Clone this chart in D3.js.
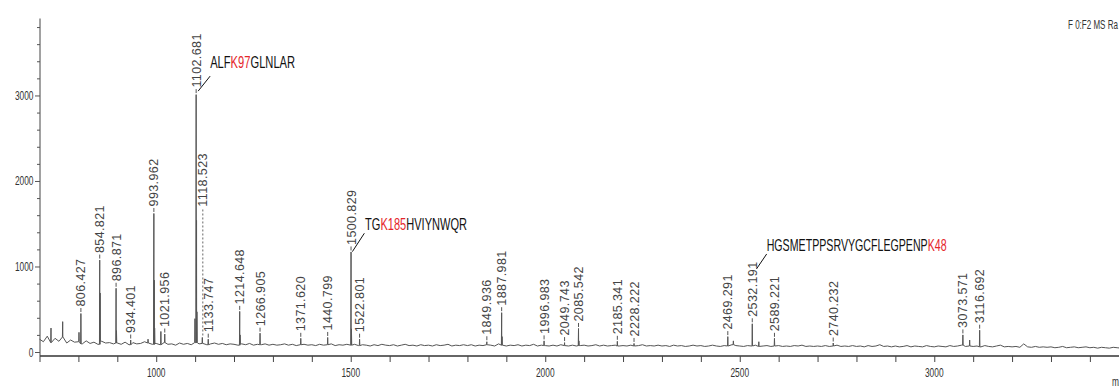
<!DOCTYPE html>
<html>
<head>
<meta charset="utf-8">
<script src="https://cdn.jsdelivr.net/npm/d3@7"></script>
<style>
  body { margin: 0; background: #fff; }
  svg { display: block; }
</style>
</head>
<body>
<svg id="chart" width="1119" height="388"></svg>
<script>
// ---------- data ----------
// baseline noise trace: one value every 10 m/z starting at 700
const baselineStart = 700;
const baselineStep = 10;
const baselineIntensity = [
  150,120,185,110,160,125,175,105,140,115,
  120,95,130,100,115,90,125,105,110,95,
  105,90,115,85,110,95,100,120,105,90,
  100,85,110,90,95,80,105,90,100,85,
  110,95,100,85,95,105,90,100,85,95,
  90,80,95,85,100,80,90,85,95,80,
  90,80,85,95,80,90,75,85,90,80,
  85,75,90,80,85,95,75,85,80,90,
  80,90,75,85,80,70,85,75,90,80,
  75,85,70,80,90,75,80,70,85,75,
  80,70,85,75,80,90,70,80,75,85,
  75,85,70,80,75,85,80,70,95,80,
  70,80,75,85,70,80,75,90,70,80,
  75,70,80,70,85,75,70,80,70,75,
  80,70,75,85,70,80,70,75,80,70,
  75,70,80,70,75,85,70,75,70,80,
  70,75,65,80,70,75,65,70,80,70,
  75,65,70,80,70,65,75,70,85,75,
  70,65,75,70,80,65,70,75,65,70,
  75,65,70,65,75,70,80,65,70,65,
  70,65,75,65,70,80,65,70,65,75,
  65,70,60,75,65,70,85,65,70,60,
  70,60,65,75,60,70,65,60,75,65,
  60,70,65,60,75,65,70,80,65,70,
  65,70,60,75,65,60,70,80,60,65,
  60,65,55,95,60,55,65,55,60,55,
  60,50,55,65,50,55,60,50,55,60,
  50,55,45,55,50,45,55,50,45
];

// labelled peaks (m/z, intensity)
const labeledMz = [
  806.427, 854.821, 896.871, 934.401, 993.962, 1021.956, 1102.681, 1118.523,
  1133.747, 1214.648, 1266.905, 1371.620, 1440.799, 1500.829, 1522.801,
  1849.936, 1887.981, 1996.983, 2049.743, 2085.542, 2185.341, 2228.222,
  2469.291, 2532.191, 2589.221, 2740.232, 3073.571, 3116.692
];
const labeledIntensity = [
  450, 1075, 745, 140, 1620, 210, 3010, 170,
  150, 475, 220, 160, 170, 1170, 150,
  120, 460, 130, 110, 275, 125, 100,
  180, 330, 160, 105, 200, 255
];

// unlabelled peaks (isotopes and minor signals)
const otherMz = [
  729.6, 759.6, 801.5, 855.82, 897.87, 979.0, 994.96, 995.96, 1012.0,
  1099.6, 1103.68, 1104.68, 1215.65, 1501.83, 1888.98, 2086.54,
  2483.6, 2549.0, 3091.0
];
const otherIntensity = [
  280, 355, 230, 690, 250, 150, 840, 280, 240,
  390, 1540, 470, 200, 270, 180, 130,
  130, 120, 140
];

// peptide annotations: [plain, modified residue, plain]
const peptideMz = [1102.681, 1500.829, 2532.191];
const peptideParts = [
  ["ALF", "K97", "GLNLAR"],
  ["TG", "K185", "HVIYNWQR"],
  ["HGSMETPPSRVYGCFLEGPENP", "K48", ""]
];

const xTickValues = [1000, 1500, 2000, 2500, 3000];
const yTickValues = [0, 1000, 2000, 3000];
const headerText = "F 0:F2 MS Ra";
const xAxisTitle = "m/z";

// ---------- layout ----------
const svg = d3.select("#chart");
const W = 1119, H = 388;
const axisLeft = 40, axisBottomY = 356;

const x = d3.scaleLinear().domain([700, 3480]).range([39.5, 1121]);
const y = d3.scaleLinear().domain([0, 3900]).range([352, 18.5]);

const narrow = "'Liberation Sans Narrow', 'Arial Narrow', sans-serif";
const regular = "'Liberation Sans', Arial, sans-serif";
const squeeze = 0.67;   // horizontal compression of the axis lettering

// ---------- axes ----------
const gx = svg.append("g").attr("transform", `translate(0,${axisBottomY})`);
gx.call(d3.axisBottom(x).tickValues(d3.range(700, 3500, 100)).tickSize(6).tickFormat(""));
gx.select(".domain").attr("d", `M${axisLeft},0H${W}`).attr("stroke", "#333").attr("stroke-width", 1.6);
gx.selectAll(".tick line").attr("stroke", "#444");

const gxl = svg.append("g").attr("transform", `translate(0,${axisBottomY})`);
gxl.selectAll("text").data(xTickValues).join("text")
  .attr("transform", d => `translate(${x(d)},21) scale(${squeeze},1)`)
  .attr("text-anchor", "middle")
  .attr("font-family", regular).attr("font-size", 12.5).attr("fill", "#333")
  .text(d => d);

const gy = svg.append("g").attr("transform", `translate(${axisLeft},0)`);
gy.call(d3.axisLeft(y).tickValues(d3.range(0, 3900, 200)).tickSize(3).tickFormat(""));
gy.select(".domain").attr("d", `M0,${y(3900)}V${axisBottomY}`).attr("stroke", "#444").attr("stroke-width", 1);
gy.selectAll(".tick line").attr("stroke", "#555")
  .attr("x2", d => yTickValues.includes(d) ? -5 : -3);
gy.selectAll(".tick text").remove();
gy.selectAll("text.ylab").data(yTickValues).join("text").attr("class", "ylab")
  .attr("transform", d => `translate(-6.5,${y(d)}) scale(${squeeze},1)`)
  .attr("dy", "0.36em")
  .attr("text-anchor", "end")
  .attr("font-family", regular).attr("font-size", 12.5).attr("fill", "#333")
  .text(d => d);

// ---------- spectrum trace ----------
const baseAt = m => {
  const i = Math.max(0, Math.min(baselineIntensity.length - 1, Math.round((m - baselineStart) / baselineStep)));
  return baselineIntensity[i];
};
const points = baselineIntensity.map((v, i) => [baselineStart + i * baselineStep, v]);
const allPeaks = labeledMz.map((m, i) => [m, labeledIntensity[i]])
  .concat(otherMz.map((m, i) => [m, otherIntensity[i]]));
allPeaks.forEach(([m, h]) => {
  const b = baseAt(m);
  points.push([m - 0.7, b], [m, h], [m + 0.7, b]);
});
points.sort((a, b) => a[0] - b[0]);

svg.append("path")
  .datum(points)
  .attr("fill", "none")
  .attr("stroke", "#555")
  .attr("stroke-width", 1)
  .attr("stroke-linejoin", "round")
  .attr("d", d3.line().x(d => x(d[0])).y(d => y(d[1])));

// ---------- peak labels ----------
// labels that would collide with the 1102 cluster are lifted, with a dashed leader
const liftedLabels = new Map([[1118.523, 1700]]);
const fmt = d3.format(".3f");
const lab = svg.append("g");
labeledMz.forEach((m, i) => {
  const h = labeledIntensity[i];
  const px = x(m), top = y(h);
  let start = top - 7;
  if (liftedLabels.has(m)) {
    start = y(liftedLabels.get(m));
    lab.append("line")
      .attr("x1", px + 0.5).attr("x2", px + 0.5)
      .attr("y1", top - 2).attr("y2", start + 1)
      .attr("stroke", "#666").attr("stroke-width", 1).attr("stroke-dasharray", "2,2");
  } else {
    lab.append("line")
      .attr("x1", px).attr("x2", px)
      .attr("y1", top - 1.5).attr("y2", top - 5.5)
      .attr("stroke", "#555").attr("stroke-width", 1);
  }
  lab.append("text")
    .attr("transform", `translate(${px},${start}) rotate(-90)`)
    .attr("dy", "0.36em")
    .attr("text-anchor", "start")
    .attr("font-family", regular).attr("font-size", 12.5)
    .attr("letter-spacing", "0.4px")
    .attr("fill", "#444")
    .text(fmt(m));
});

// ---------- peptide annotations ----------
// offsets relative to the peak top: leader start, leader end, text origin, text width
const annotationLayout = [
  { l0: [2, -3.5], l1: [14, -18.5], t: [14, -26.3], w: 85 },
  { l0: [1.3, -0.3], l1: [13.3, -18.7], t: [14, -22], w: 102 },
  { l0: [4.2, -54.8], l1: [14.4, -69.8], t: [14.4, -72.8], w: 180 }
];
peptideMz.forEach((m, i) => {
  const h = labeledIntensity[labeledMz.indexOf(m)];
  const px = x(m), top = y(h);
  const L = annotationLayout[i];
  svg.append("line")
    .attr("x1", px + L.l0[0]).attr("y1", top + L.l0[1])
    .attr("x2", px + L.l1[0]).attr("y2", top + L.l1[1])
    .attr("stroke", "#111").attr("stroke-width", 1);
  const t = svg.append("text")
    .attr("font-family", narrow).attr("font-size", 16).attr("fill", "#111");
  peptideParts[i].forEach((s, j) => {
    if (s) t.append("tspan").attr("fill", j === 1 ? "#e5262b" : "#111").text(s);
  });
  const len = t.node().getComputedTextLength();
  t.attr("transform", `translate(${px + L.t[0]},${top + L.t[1]}) scale(${L.w / len},1)`);
});

// ---------- header and axis title ----------
const head = svg.append("text")
  .attr("font-family", regular).attr("font-size", 12).attr("fill", "#333")
  .text(headerText);
const headLen = head.node().getComputedTextLength();
head.attr("transform", `translate(1068,29) scale(${50 / headLen},1)`);

svg.append("text")
  .attr("transform", `translate(1112,386) scale(${squeeze},1)`)
  .attr("font-family", regular).attr("font-size", 12.5).attr("fill", "#333")
  .text(xAxisTitle);
</script>
</body>
</html>
